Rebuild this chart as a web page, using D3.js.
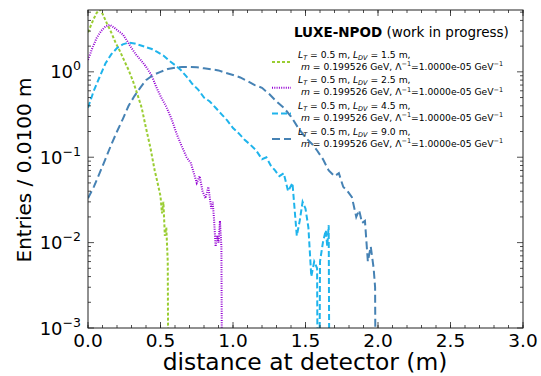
<!DOCTYPE html>
<html>
<head>
<meta charset="utf-8">
<script src="https://cdn.jsdelivr.net/npm/d3@7"></script>
<style>
body { margin: 0; background: #fff; }
text { font-family: "DejaVu Sans", sans-serif; fill: #000; }
</style>
</head>
<body>
<svg width="541" height="376"></svg>
<script>
// distance at detector (m), entries per 0.01 m bin
var xGreen = [0, 0.02, 0.04, 0.06, 0.08, 0.10, 0.13, 0.16, 0.19, 0.22, 0.25, 0.28, 0.31, 0.34, 0.37, 0.40, 0.43, 0.46, 0.48, 0.50, 0.51, 0.52, 0.53, 0.54, 0.55, 0.56];
var yGreen = [2.9, 3.5, 4.2, 4.9, 5.4, 4.8, 3.7, 2.9, 2.2, 1.75, 1.35, 1.05, 0.78, 0.55, 0.38, 0.22, 0.13, 0.07, 0.05, 0.035, 0.022, 0.03, 0.012, 0.015, 0.006, 0];

var xPurple = [0, 0.03, 0.06, 0.09, 0.12, 0.15, 0.18, 0.21, 0.24, 0.27, 0.30, 0.33, 0.36, 0.40, 0.44, 0.47, 0.50, 0.54, 0.58, 0.61, 0.65, 0.68, 0.71, 0.73, 0.75, 0.77, 0.79, 0.81, 0.83, 0.85, 0.86, 0.87, 0.88, 0.89, 0.90, 0.91, 0.92, 0.93];
var yPurple = [1.38, 1.9, 2.5, 3.0, 3.4, 3.55, 3.3, 3.0, 2.75, 2.3, 1.9, 1.6, 1.4, 1.15, 0.9, 0.67, 0.52, 0.39, 0.27, 0.19, 0.13, 0.1, 0.085, 0.065, 0.05, 0.06, 0.04, 0.033, 0.045, 0.025, 0.03, 0.018, 0.009, 0.012, 0.01, 0.018, 0.009, 0];

var xLight = [0, 0.04, 0.08, 0.12, 0.16, 0.20, 0.24, 0.28, 0.32, 0.36, 0.40, 0.44, 0.48, 0.52, 0.56, 0.60, 0.64, 0.68, 0.72, 0.76, 0.80, 0.84, 0.88, 0.92, 0.96, 1.00, 1.04, 1.08, 1.12, 1.16, 1.20, 1.23, 1.26, 1.29, 1.32, 1.35, 1.38, 1.41, 1.44, 1.46, 1.48, 1.50, 1.52, 1.54, 1.56, 1.58, 1.59, 1.60, 1.62, 1.64, 1.65, 1.66, 1.67];
var yLight = [0.38, 0.6, 0.87, 1.25, 1.6, 1.9, 2.1, 2.2, 2.15, 2.05, 1.95, 1.85, 1.7, 1.55, 1.35, 1.2, 1.05, 0.88, 0.72, 0.62, 0.5, 0.45, 0.38, 0.32, 0.27, 0.22, 0.19, 0.16, 0.14, 0.12, 0.095, 0.1, 0.08, 0.07, 0.06, 0.065, 0.04, 0.05, 0.012, 0.018, 0.03, 0.025, 0.015, 0.004, 0.006, 0.005, 0, 0.006, 0.01, 0.014, 0.009, 0.016, 0];

var xDark = [0, 0.04, 0.08, 0.12, 0.16, 0.20, 0.24, 0.28, 0.32, 0.36, 0.40, 0.45, 0.50, 0.55, 0.60, 0.65, 0.70, 0.75, 0.80, 0.85, 0.90, 0.95, 1.00, 1.05, 1.10, 1.15, 1.20, 1.25, 1.30, 1.35, 1.40, 1.45, 1.50, 1.55, 1.58, 1.62, 1.66, 1.70, 1.73, 1.76, 1.79, 1.82, 1.85, 1.87, 1.89, 1.91, 1.93, 1.95, 1.97, 1.98, 1.99];
var yDark = [0.033, 0.045, 0.065, 0.095, 0.14, 0.2, 0.28, 0.4, 0.52, 0.65, 0.8, 0.92, 1.0, 1.08, 1.12, 1.14, 1.14, 1.13, 1.1, 1.07, 1.04, 0.97, 0.92, 0.86, 0.78, 0.7, 0.65, 0.55, 0.45, 0.38, 0.3, 0.22, 0.17, 0.14, 0.12, 0.095, 0.07, 0.06, 0.065, 0.045, 0.04, 0.034, 0.02, 0.024, 0.017, 0.018, 0.006, 0.009, 0.005, 0.003, 0];

var ldv = ["1.5", "2.5", "4.5", "9.0"];
var xTicks = [0, 0.5, 1.0, 1.5, 2.0, 2.5, 3.0];
var yTicks = [1e-3, 1e-2, 1e-1, 1];
var yExp = ["\u22123", "\u22122", "\u22121", "0"];

var series = [
    {xs: xGreen, ys: yGreen, color: "#9acd32", dash: "3,2"},
    {xs: xPurple, ys: yPurple, color: "#9400d3", dash: "1,1.3"},
    {xs: xLight, ys: yLight, color: "#1fb4ec", dash: "6,3"},
    {xs: xDark, ys: yDark, color: "#4682b4", dash: "8,4"}
];

var svg = d3.select("svg");
var pLeft = 88, pRight = 523, pTop = 10, pBottom = 328;

var x = d3.scaleLinear().domain([0, 3]).range([pLeft, pRight]);
var y = d3.scaleLog().domain([1e-3, 5.3]).range([pBottom, pTop]);

svg.append("clipPath").attr("id", "clip")
    .append("rect").attr("x", pLeft).attr("y", pTop)
    .attr("width", pRight - pLeft).attr("height", pBottom - pTop);

var line = d3.line()
    .x(function(d) { return x(d[0]); })
    .y(function(d) { return y(d[1] > 0 ? d[1] : 1e-6); });

var plot = svg.append("g").attr("clip-path", "url(#clip)");
series.forEach(function(s) {
    plot.append("path")
        .datum(d3.zip(s.xs, s.ys))
        .attr("d", line)
        .attr("fill", "none")
        .attr("stroke", s.color)
        .attr("stroke-width", 2)
        .attr("stroke-dasharray", s.dash);
});

// minor ticks
var xMinor = d3.range(0, 3.001, 0.1);
var yMinor = [];
[1e-3, 1e-2, 1e-1, 1].forEach(function(d) {
    for (var k = 2; k <= 9; k++) if (d * k < 5.3) yMinor.push(d * k);
});

var ticks = svg.append("g").attr("stroke", "#222").attr("stroke-width", 0.8);
xMinor.forEach(function(v) {
    ticks.append("line").attr("x1", x(v)).attr("x2", x(v)).attr("y1", pBottom).attr("y2", pBottom - 3);
    ticks.append("line").attr("x1", x(v)).attr("x2", x(v)).attr("y1", pTop).attr("y2", pTop + 3);
});
xTicks.forEach(function(v) {
    ticks.append("line").attr("x1", x(v)).attr("x2", x(v)).attr("y1", pBottom).attr("y2", pBottom - 6);
    ticks.append("line").attr("x1", x(v)).attr("x2", x(v)).attr("y1", pTop).attr("y2", pTop + 6);
});
yMinor.forEach(function(v) {
    ticks.append("line").attr("x1", pLeft).attr("x2", pLeft + 3).attr("y1", y(v)).attr("y2", y(v));
    ticks.append("line").attr("x1", pRight).attr("x2", pRight - 3).attr("y1", y(v)).attr("y2", y(v));
});
yTicks.forEach(function(v) {
    ticks.append("line").attr("x1", pLeft).attr("x2", pLeft + 6).attr("y1", y(v)).attr("y2", y(v));
    ticks.append("line").attr("x1", pRight).attr("x2", pRight - 6).attr("y1", y(v)).attr("y2", y(v));
});

svg.append("rect")
    .attr("x", pLeft).attr("y", pTop)
    .attr("width", pRight - pLeft).attr("height", pBottom - pTop)
    .attr("fill", "none").attr("stroke", "#222").attr("stroke-width", 1);

// tick labels
svg.append("g").selectAll("text").data(xTicks).enter().append("text")
    .attr("x", function(d) { return x(d); })
    .attr("y", 347)
    .attr("text-anchor", "middle")
    .style("font-size", "18.5px")
    .text(function(d) { return d.toFixed(1); });

yTicks.forEach(function(v, i) {
    var t = svg.append("text")
        .attr("x", 81).attr("y", y(v) + 6.5)
        .attr("text-anchor", "end")
        .style("font-size", "18px");
    t.append("tspan").text("10");
    t.append("tspan").attr("dy", -8).style("font-size", "12.5px").text(yExp[i]);
});

svg.append("text")
    .attr("x", 305).attr("y", 370)
    .attr("text-anchor", "middle")
    .style("font-size", "23.4px")
    .text("distance at detector (m)");

svg.append("text")
    .attr("transform", "translate(31,170) rotate(-90)")
    .attr("text-anchor", "middle")
    .style("font-size", "20px")
    .text("Entries / 0.0100 m");

// legend
var title = svg.append("text").attr("x", 294).attr("y", 37).style("font-size", "13.5px");
title.append("tspan").style("font-weight", "bold").text("LUXE-NPOD");
title.append("tspan").text(" (work in progress)");

series.forEach(function(s, i) {
    var y0 = 57.5 + i * 25.7;
    svg.append("line")
        .attr("x1", 272).attr("x2", 291)
        .attr("y1", y0 + 4.5).attr("y2", y0 + 4.5)
        .attr("stroke", s.color).attr("stroke-width", 2)
        .attr("stroke-dasharray", s.dash);
    var t1 = svg.append("text").attr("x", 298).attr("y", y0).style("font-size", "9.2px");
    t1.append("tspan").style("font-style", "italic").text("L");
    t1.append("tspan").attr("dy", 2).style("font-size", "6.5px").style("font-style", "italic").text("T");
    t1.append("tspan").attr("dy", -2).text(" = 0.5 m, ");
    t1.append("tspan").style("font-style", "italic").text("L");
    t1.append("tspan").attr("dy", 2).style("font-size", "6.5px").style("font-style", "italic").text("DV");
    t1.append("tspan").attr("dy", -2).text(" = " + ldv[i] + " m,");
    var t2 = svg.append("text").attr("x", 301).attr("y", y0 + 12).style("font-size", "9.2px");
    t2.append("tspan").style("font-style", "italic").text("m");
    t2.append("tspan").text(" = 0.199526 GeV, \u039b");
    t2.append("tspan").attr("dy", -3.5).style("font-size", "6.5px").text("\u22121");
    t2.append("tspan").attr("dy", 3.5).text("=1.0000e-05 GeV");
    t2.append("tspan").attr("dy", -3.5).style("font-size", "6.5px").text("\u22121");
});
</script>
</body>
</html>
